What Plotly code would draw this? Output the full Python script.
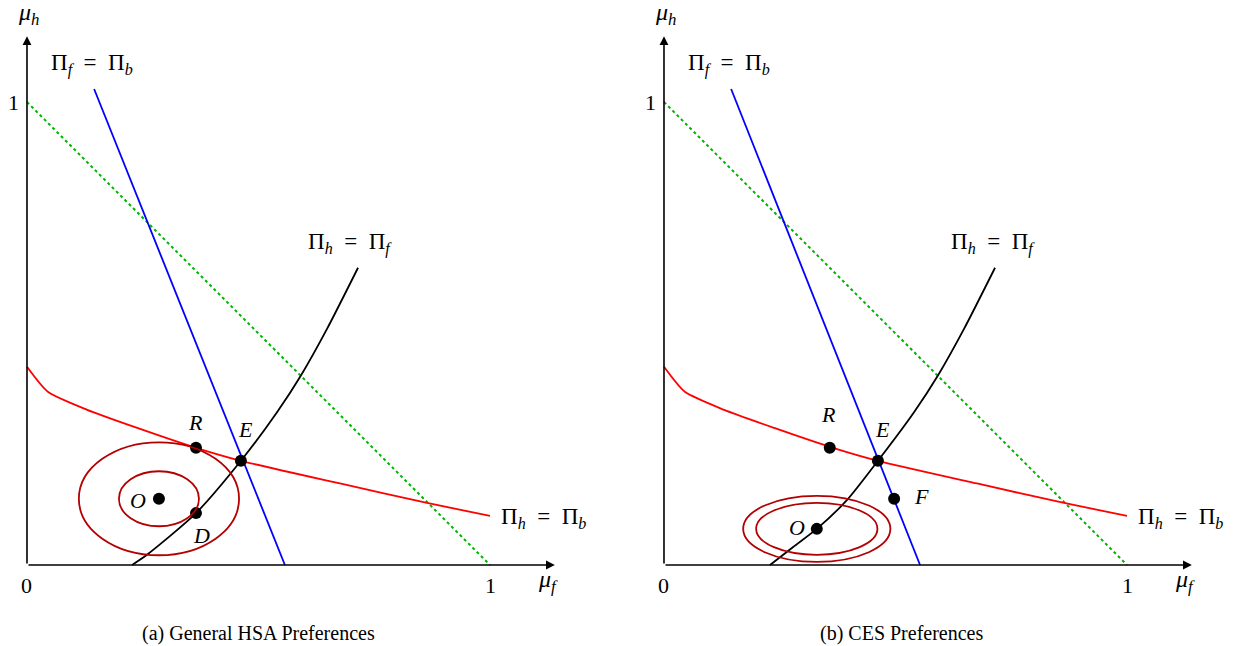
import plotly.graph_objects as go
from plotly.subplots import make_subplots

# values (units: mu_f on x, mu_h on y)
budget_x = [0, 1]
budget_y = [1, 0]

red_x = [0.0, 0.045, 0.130, 0.238, 0.365, 0.462, 0.676, 0.864, 1.0]
red_y = [0.428, 0.374, 0.335, 0.296, 0.253, 0.225, 0.176, 0.134, 0.106]

# left panel (a) General HSA
a_blue_x = [0.145, 0.557]
a_blue_y = [1.028, 0.0]
a_black_x = [0.227, 0.259, 0.365, 0.462, 0.540, 0.592, 0.648, 0.715]
a_black_y = [0.0, 0.022, 0.112, 0.225, 0.330, 0.410, 0.510, 0.642]
a_pts = ["R", "E", "D", "O"]
a_pts_x = [0.365, 0.462, 0.365, 0.285]
a_pts_y = [0.253, 0.225, 0.112, 0.143]
a_ell = [(0.285, 0.143, 0.173, 0.122), (0.285, 0.143, 0.0864, 0.0594)]

# right panel (b) CES
b_blue_x = [0.145, 0.553]
b_blue_y = [1.028, 0.0]
b_black_x = [0.229, 0.279, 0.330, 0.395, 0.462, 0.540, 0.592, 0.648, 0.715]
b_black_y = [0.0, 0.039, 0.078, 0.140, 0.225, 0.330, 0.410, 0.510, 0.642]
b_pts = ["R", "E", "F", "O"]
b_pts_x = [0.358, 0.462, 0.497, 0.330]
b_pts_y = [0.253, 0.225, 0.143, 0.078]
b_ell = [(0.330, 0.078, 0.159, 0.0713), (0.330, 0.078, 0.131, 0.056)]

FONT = "Liberation Serif"
RED = "#ff0000"
DARKRED = "#b30000"

fig = make_subplots(rows=1, cols=2, horizontal_spacing=0)


def panel(col, blue_x, blue_y, black_x, black_y, pts_x, pts_y, ells):
    fig.add_trace(go.Scatter(x=budget_x, y=budget_y, mode="lines",
                             line=dict(color="#00b400", width=2, dash="dot")), row=1, col=col)
    fig.add_trace(go.Scatter(x=red_x, y=red_y, mode="lines",
                             line=dict(color=RED, width=1.8, shape="spline", smoothing=0.6)),
                  row=1, col=col)
    fig.add_trace(go.Scatter(x=blue_x, y=blue_y, mode="lines",
                             line=dict(color="#0000ff", width=1.8)), row=1, col=col)
    fig.add_trace(go.Scatter(x=black_x, y=black_y, mode="lines",
                             line=dict(color="black", width=1.8, shape="spline", smoothing=0.7)),
                  row=1, col=col)
    for cx, cy, a, b in ells:
        fig.add_shape(type="circle", x0=cx - a, x1=cx + a, y0=cy - b, y1=cy + b,
                      line=dict(color=DARKRED, width=1.8), row=1, col=col)
    fig.add_trace(go.Scatter(x=pts_x, y=pts_y, mode="markers",
                             marker=dict(color="black", size=12)), row=1, col=col)


panel(1, a_blue_x, a_blue_y, a_black_x, a_black_y, a_pts_x, a_pts_y, a_ell)
panel(2, b_blue_x, b_blue_y, b_black_x, b_black_y, b_pts_x, b_pts_y, b_ell)

# axis arrows
for xr, yr in [("x", "y"), ("x2", "y2")]:
    fig.add_annotation(x=1.14, y=0, ax=0, ay=0, xref=xr, yref=yr, axref=xr, ayref=yr,
                       showarrow=True, arrowhead=2, arrowsize=1.1, arrowwidth=1.6,
                       arrowcolor="black", text="")
    fig.add_annotation(x=0, y=1.142, ax=0, ay=0, xref=xr, yref=yr, axref=xr, ayref=yr,
                       showarrow=True, arrowhead=2, arrowsize=1.1, arrowwidth=1.6,
                       arrowcolor="black", text="")


def txt(xr, yr, x, y, s, size=22, xanchor="center"):
    fig.add_annotation(x=x, y=y, xref=xr, yref=yr, text=s, showarrow=False,
                       xanchor=xanchor, yanchor="middle",
                       font=dict(family=FONT, size=size, color="black"))


eq_fb = "Π<sub><i>f</i></sub>\u2002=\u2002Π<sub><i>b</i></sub>"
eq_hf = "Π<sub><i>h</i></sub>\u2002=\u2002Π<sub><i>f</i></sub>"
eq_hb = "Π<sub><i>h</i></sub>\u2002=\u2002Π<sub><i>b</i></sub>"

for xr, yr, hfx in [("x", "y", 0.698), ("x2", "y2", 0.71)]:
    txt(xr, yr, 0.003, 1.19, "<i>μ</i><sub><i>h</i></sub>", size=24)
    txt(xr, yr, 1.125, -0.035, "<i>μ</i><sub><i>f</i></sub>", size=24)
    txt(xr, yr, -0.03, 1.0, "1")
    txt(xr, yr, 0.0, -0.045, "0")
    txt(xr, yr, 1.0, -0.045, "1")
    txt(xr, yr, 0.14, 1.08, eq_fb, size=23)
    txt(xr, yr, hfx, 0.695, eq_hf, size=23)
    txt(xr, yr, 1.02, 0.101, eq_hb, size=23, xanchor="left")

for s, x, y in zip(a_pts, [0.365, 0.473, 0.376, 0.240], [0.307, 0.292, 0.063, 0.140]):
    txt("x", "y", x, y, "<i>" + s + "</i>")
for s, x, y in zip(b_pts, [0.356, 0.471, 0.557, 0.287], [0.324, 0.292, 0.147, 0.082]):
    txt("x2", "y2", x, y, "<i>" + s + "</i>")

txt("x", "y", 0.499, -0.147, "(a) General HSA Preferences", size=20)
txt("x2", "y2", 0.514, -0.147, "(b) CES Preferences", size=20)

# ranges chosen so 1 unit = 463 px in both directions
fig.update_xaxes(visible=False, fixedrange=True)
fig.update_yaxes(visible=False, fixedrange=True, range=[-0.175, 1.2203])
fig.update_xaxes(range=[-0.0583, 1.2743], domain=[0, 0.5], row=1, col=1)
fig.update_xaxes(range=[-0.1015, 1.2311], domain=[0.5, 1], row=1, col=2)
fig.update_layout(width=1234, height=646, margin=dict(l=0, r=0, t=0, b=0),
                  showlegend=False, plot_bgcolor="white", paper_bgcolor="white",
                  hovermode=False)

fig.write_html("out.html", config={"displayModeBar": False},
               post_script="document.body.style.margin='0';")
